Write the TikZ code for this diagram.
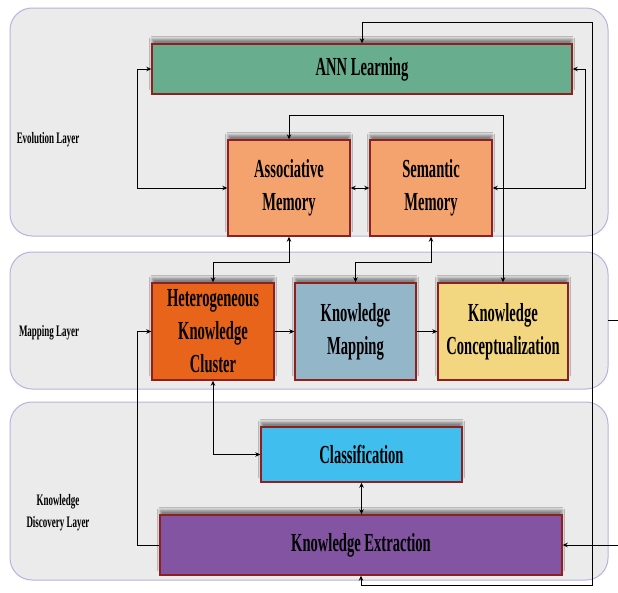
\documentclass[tikz,border=0pt]{standalone}
\usepackage{fontspec}
\setmainfont{Liberation Serif}[FakeStretch=0.56]
\usetikzlibrary{arrows.meta,shadows.blur,calc}
\definecolor{layerfill}{HTML}{EBEBEB}
\definecolor{layerdraw}{HTML}{B6B4E0}
\definecolor{boxdraw}{HTML}{8E2020}
\definecolor{cann}{HTML}{67AD8E}
\definecolor{cmem}{HTML}{F4A36F}
\definecolor{chkc}{HTML}{E8641B}
\definecolor{ckm}{HTML}{93B6C9}
\definecolor{ckc}{HTML}{F3D680}
\definecolor{ccls}{HTML}{40BFEE}
\definecolor{cke}{HTML}{8254A1}
\tikzset{
  layerbox/.style={draw=layerdraw, fill=layerfill, line width=1pt, rounded corners=22pt},
  layerlabel/.style={font=\fontsize{16}{22}\selectfont\bfseries, align=center, inner sep=0pt},
  procbox/.style={draw=boxdraw, line width=1.4pt, inner sep=0pt, align=center,
    font=\fontsize{26}{33}\selectfont\bfseries,
    blur shadow={shadow xshift=0pt, shadow yshift=5pt, shadow blur radius=2.5pt, shadow opacity=45}},
  conn/.style={draw=black, line width=0.9pt},
  sgl/.style={conn, -{Stealth[length=5pt,width=4.5pt]}},
  dbl/.style={conn, {Stealth[length=5pt,width=4.5pt]}-{Stealth[length=5pt,width=4.5pt]}}
}
\begin{document}
\begin{tikzpicture}[x=1pt,y=-1pt]
\useasboundingbox (0,0) rectangle (618,592);
\fill[white] (0,0) rectangle (618,592);
% layers
\draw[layerbox] (10,8) rectangle (608,236);
\draw[layerbox] (10,252) rectangle (608,389);
\draw[layerbox] (10,402) rectangle (608,580);
\node[layerlabel] (l1) at (48,140) {Evolution Layer};
\node[layerlabel] (l2) at (49,333) {Mapping Layer};
\node[layerlabel] (l3) at (58,513) {Knowledge\\Discovery Layer};
% boxes
\node[procbox, fill=cann, minimum width=420pt, minimum height=50pt] (ann) at (362,69) {ANN Learning};
\node[procbox, fill=cmem, minimum width=122pt, minimum height=96pt] (am) at (289,188) {Associative\\Memory};
\node[procbox, fill=cmem, minimum width=122pt, minimum height=96pt] (sm) at (431,188) {Semantic\\Memory};
\node[procbox, fill=chkc, minimum width=122pt, minimum height=97pt] (hkc) at (213,331.5) {Heterogeneous\\Knowledge\\Cluster};
\node[procbox, fill=ckm, minimum width=121pt, minimum height=97pt] (km) at (355.5,331.5) {Knowledge\\Mapping};
\node[procbox, fill=ckc, minimum width=130pt, minimum height=97pt] (kc) at (503,331.5) {Knowledge\\Conceptualization};
\node[procbox, fill=ccls, minimum width=201pt, minimum height=55pt] (cls) at (361.5,454.5) {Classification};
\node[procbox, fill=cke, minimum width=402pt, minimum height=60pt] (ke) at (361,545) {Knowledge Extraction};
% free-end coordinates
\coordinate (inR) at (618,545);
\coordinate (st1) at (608,320);
\coordinate (st2) at (618,320);
% connectors
\draw[dbl] (ann.north) -- (362,22) -- (592,22) -- (592,585) -- (361,585) -- (ke.south);
\draw[dbl] (ann.west) -- (137,69) -- (137,188) -- (am.west);
\draw[dbl] (ann.east) -- (585,69) -- (585,188) -- (sm.east);
\draw[dbl] (am.east) -- (sm.west);
\draw[dbl] (am.north) -- (289,115) -- (503,115) -- (kc.north);
\draw[dbl] (am.south) -- (289,262) -- (213,262) -- (hkc.north);
\draw[dbl] (sm.south) -- (431,262) -- (355.5,262) -- (km.north);
\draw[sgl] (hkc.east) -- (km.west);
\draw[sgl] (km.east) -- (kc.west);
\draw[dbl] (hkc.south) |- (cls.west);
\draw[dbl] (cls.south) -- (cls.south |- ke.north);
\draw[sgl] (ke.west) -- (137,545) -- (137,331.5) -- (hkc.west);
\draw[sgl] (inR) -- (ke.east);
\draw[conn] (st1) -- (st2);
\end{tikzpicture}
\end{document}
